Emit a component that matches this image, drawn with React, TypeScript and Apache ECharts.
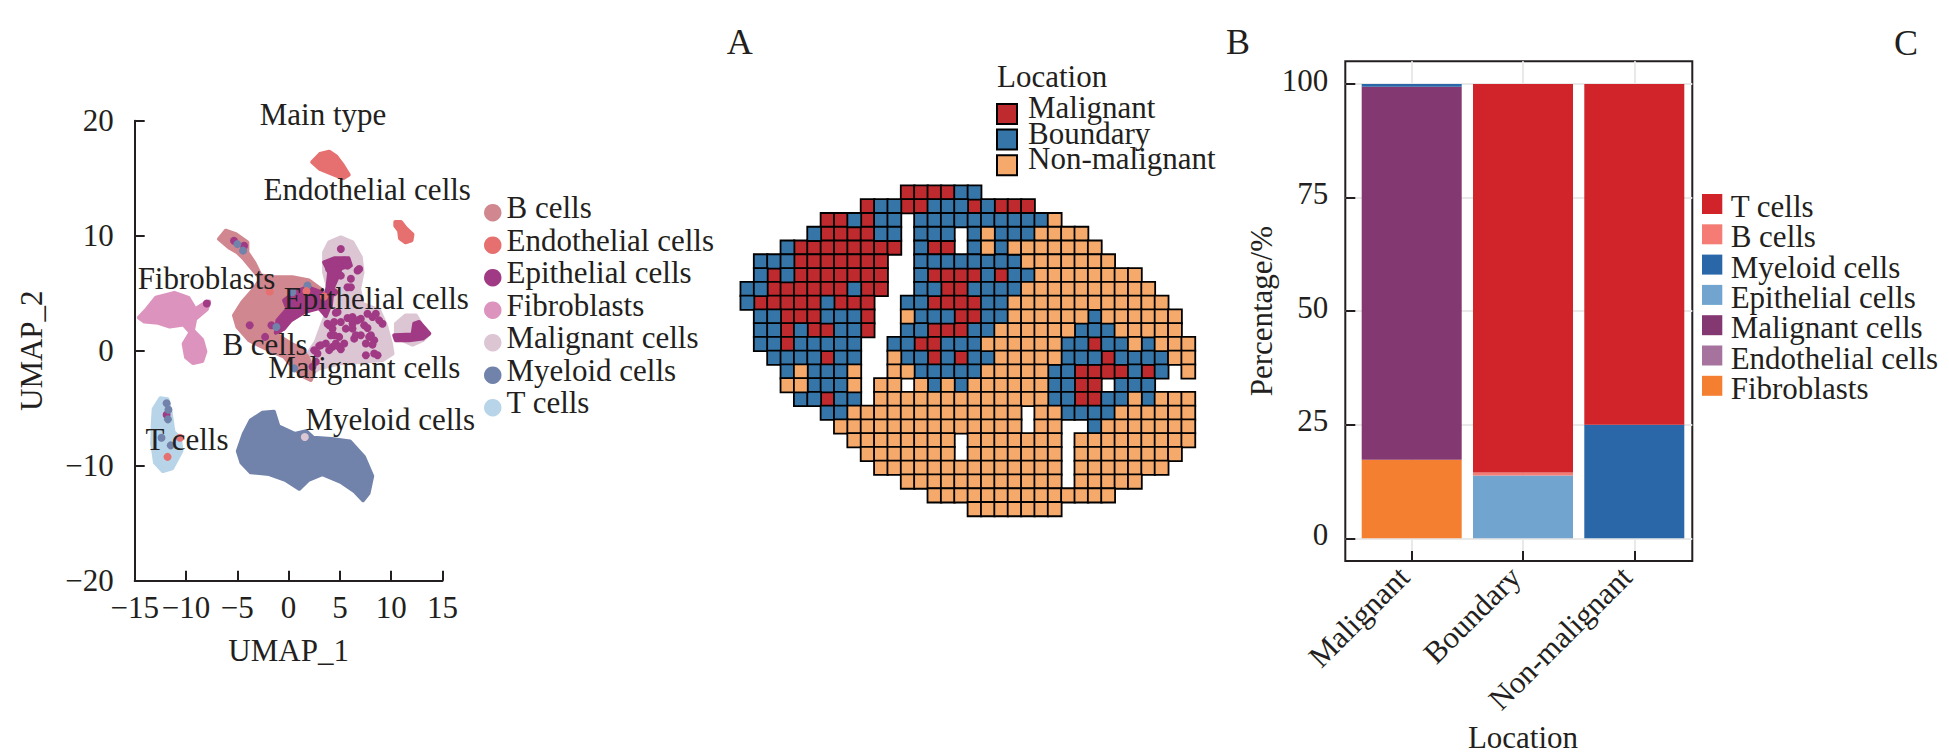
import React, { useEffect, useRef } from "react";
import * as echarts from "echarts";

const FONT = "Liberation Serif";
const INK = "#231f20";

// ---------- UMAP panel ----------
const bCellParts = [[[-6.78,9.71],[-6.13,10.43],[-5.15,10.14],[-4.02,9.42],[-4.02,8.55],[-3.37,7.69],[-2.72,6.53],[-1.41,6.39],[0.37,6.39],[2.0,6.1],[3.3,5.24],[3.63,4.37],[2.98,3.79],[1.51,3.36],[0.21,2.64],[-0.6,1.92],[-1.09,1.34],[0.21,0.62],[1.19,0.19],[1.84,-0.53],[2.49,-1.83],[2.16,-2.55],[1.51,-2.26],[0.54,-1.54],[-0.44,-0.53],[-2.23,0.19],[-3.85,0.91],[-4.99,2.06],[-5.32,3.07],[-4.5,4.23],[-3.37,5.38],[-2.72,6.25],[-3.53,7.11],[-4.34,7.98],[-4.99,8.55],[-5.8,8.98]]];
const endothelialParts = [
  [[2.3,16.4],[3.06,17.1],[3.96,17.3],[4.64,16.9],[5.3,16.1],[5.86,15.3],[5.3,15.0],[4.19,15.4],[3.06,15.8]],
  [[10.4,11.2],[10.95,11.2],[11.4,10.67],[12.07,10.1],[11.98,9.6],[11.4,9.43],[10.86,9.77],[10.77,10.43],[10.4,10.87]],
];
const epithelialParts = [
  [[0.62,5.09],[1.84,5.52],[3.14,5.09],[4.11,4.08],[3.63,3.02],[2.98,3.71],[1.51,3.36],[0.21,2.64],[-0.44,1.92],[-1.25,1.57],[-1.09,2.64],[-0.11,3.65],[-0.44,4.37]],
  [[3.46,7.69],[4.44,8.03],[5.84,8.03],[6.07,7.4],[5.09,7.17],[4.77,6.39],[4.28,5.38],[4.11,3.79],[3.46,4.08],[3.79,5.52],[3.95,6.82]],
  [[10.29,1.34],[12.08,1.4],[12.24,2.35],[12.73,2.5],[13.71,1.49],[13.06,1.05],[11.76,0.91],[10.46,0.91]],
];
const fibroblastParts = [[[-14.59,2.87],[-13.83,3.6],[-12.93,4.6],[-11.13,5.03],[-9.77,4.6],[-9.1,3.6],[-8.2,4.1],[-7.75,4.27],[-7.97,3.6],[-9.1,2.77],[-9.32,1.77],[-8.42,0.93],[-8.11,-0.07],[-8.42,-0.9],[-9.32,-1.07],[-10,-0.57],[-10.23,0.6],[-9.55,1.6],[-10.23,2.27],[-11.58,2.1],[-12.7,2.43],[-14.05,2.53]]];
const malignantParts = [
  [[3.46,8.55],[3.95,9.42],[5.09,9.85],[6.23,9.42],[7.04,8.12],[7.2,6.82],[6.88,5.38],[7.2,4.08],[8.83,3.51],[9.48,2.21],[9.97,0.62],[10.13,-0.24],[9.15,-0.82],[7.2,-0.96],[4.93,-1.11],[2.98,-1.54],[2.0,-2.12],[1.19,-1.54],[1.68,-0.53],[2.65,0.77],[3.3,2.35],[3.79,3.51],[3.95,5.1],[3.46,6.82]],
  [[10.46,2.35],[11.43,3.07],[12.41,3.07],[13.06,2.06],[13.71,1.49],[13.06,0.91],[12.08,0.53],[11.11,0.91],[10.46,1.34]],
];
const myeloidParts = [[[-4.95,-8.73],[-4.37,-7.23],[-3.69,-6.07],[-2.57,-5.4],[-1.44,-5.3],[-0.99,-6.57],[0.59,-7.23],[1.71,-7],[2.39,-7.57],[4.19,-7.67],[5.99,-7.9],[7.34,-9.23],[8.15,-10.9],[7.79,-12.4],[7.25,-13],[6.44,-12.23],[5.09,-11.4],[3.29,-10.73],[1.94,-11.23],[1.04,-12],[-0.32,-11.23],[-1.89,-10.73],[-3.69,-10.57],[-4.59,-9.73]]];
const tCellParts = [[[-13.15,-5.07],[-12.48,-4.13],[-11.8,-4.23],[-11.49,-5.4],[-11.22,-7.07],[-10.59,-7.57],[-10.45,-8.73],[-11.35,-10.23],[-12.25,-10.47],[-13.02,-9.73],[-13.29,-8.07],[-13.24,-6.4]]];

const epithelialDots = [[5.09,8.84],[6.72,6.97],[6.07,5.52],[4.6,3.3],[6.23,2.93],[7.04,2.78],[7.69,3.22],[8.5,3.22],[9.15,2.35],[7.69,1.98],[5.58,1.92],[6.23,1.92],[3.95,2.21],[4.11,1.34],[4.93,1.2],[5.42,0.62],[4.28,0.33],[5.09,0.13],[2.98,0.42],[2.49,0.04],[3.63,0.62],[6.39,1.05],[7.85,1.2],[8.34,0.91],[8.18,0.53],[7.53,-0.39],[8.34,-0.24],[2.65,-0.96],[2.33,-1.4],[7.04,1.34],[5.74,2.84],[4.93,7.69],[-3.79,2.21],[-1.67,2.21],[-2.29,1.2],[-5.32,9.56],[-4.34,9.13],[-11.89,-5.57],[-7.97,4.1],[4.44,7.69],[5.42,7.83],[3.95,7.11],[5.74,7.4],[5.09,6.53],[6.07,6.25],[4.44,5.09],[5.74,5.52],[6.88,7.11],[4.28,1.92],[4.77,3.36],[6.07,2.78],[6.72,2.64],[7.37,2.21],[8.18,2.93],[8.83,2.64],[4.44,1.34],[4.6,0.62],[6.55,1.34],[8.02,1.34],[7.53,0.62],[8.67,-0.39],[3.14,0.48],[2.81,-0.24],[3.95,0.05],[4.93,0.33],[6.23,2.35],[5.09,2.5],[4.44,2.5],[3.79,2.35]];
const myeloidDots = [[-4.99,9.27],[-4.44,8.7],[-1.19,2.06],[1.84,5.67],[0.37,5.09],[0.54,-1.54],[-11.89,-4.57],[-11.71,-5.13],[-11.76,-5.97],[-12.39,-7.57],[-11.49,-8.23]];
const endothelialDots = [[-1.84,5.15],[1.74,5.18],[3.46,4.72],[-11.8,-9.23],[-10.59,-7.57]];
const malignantDots = [[1.58,-7.5]];

const umapTypes = ["B cells","Endothelial cells","Epithelial cells","Fibroblasts","Malignant cells","Myeloid cells","T cells"];
const umapColors = ["#D1878F","#E5706F","#A03A85","#DC93BE","#DCC6D4","#7183AA","#B8D4E8"];
const umapParts = [bCellParts,endothelialParts,epithelialParts,fibroblastParts,malignantParts,myeloidParts,tCellParts];
const drawOrder = [4,0,3,5,6,1,2];

const umapLabelNames = ["Endothelial cells","Fibroblasts","Epithelial cells","B cells","Malignant cells","Myeloid cells","T cells"];
const umapLabelSpots = [[7.66,14.05],[-8,6.25],[8.55,4.5],[-2.3,0.55],[7.37,-1.45],[9.9,-6.0],[-9.9,-7.75]];

// ---------- spatial panel ----------
const locationNames = ["Malignant","Boundary","Non-malignant"];
const locationColors = ["#BF2A2E","#3575A8","#F5A96B"];
const locationCodes = ["M","B","N"];
const spotRows = [
  "............MMMMBB................",
  ".........MBBMMBBBMBMMM............",
  "......MMBMBB.BBBBBBBBBBN..........",
  ".....BMMMMBB.BBB.BNBBBNNNN........",
  "...BMMMMMMMM.BMM.BNBNNNNNNN.......",
  ".BBBMMMMMMM..BBBBBBBBNNNNNNN......",
  ".BMBMMMMMMM..BMMMMBMBBNNNNNNNN....",
  "BBMMMMMMBMM..BBMMBBBBNNNNNNNNNN...",
  "BMMMMMBMMM..BBMMMMBBNNNNNNNNNNNN..",
  ".BBMMMBBBM..NBBBMMBBNNNNNNBNNNNNN.",
  ".BBMBMMBBM..BBMMMBBNNNNNNBBBNNNNN.",
  ".BBMBBBBB..BBMMBBBNNNNNNBBMBBNBNNN",
  "..BBBBMBB..NBBMBMBBNNNNNBBBMBBBBNN",
  "...BNBBBN..NNBBBBBNNNNNBBMMMMBMB.N",
  "...NNBBBN.NN.NBNBNNNNNNBBMM.BBB...",
  "....BBMBB.NNNNNNNNNNNNNBBMMBBNBNNN",
  "......BBNNNNNNNNNNNNN.NNBBBBNNNNNN",
  ".......NNNNNNNNNNNNNN.NN..BNNNNNNN",
  "........NNNNNNNN.NNNNNNN.NNNNNNNNN",
  ".........NNNNNNN.NNNNNNN.NNNNNNNN.",
  "..........NNNNNNNNNNNNNN.NNNNNNN..",
  "............NNNNNNNNNNNN.NNNNN....",
  "..............NNNNNNNNNNNNNN......",
  ".................NNNNNNN..........",
];

// ---------- stacked bar panel ----------
const barCategories = ["Malignant","Boundary","Non-malignant"];
const tCellShare = [0,85.5,75];
const bCellShare = [0,0.7,0];
const myeloidShare = [0.6,0,25];
const epithelialShare = [0,13.8,0];
const malignantShare = [82.1,0,0];
const endothelialShare = [0,0,0];
const fibroblastShare = [17.3,0,0];
const barNames = ["T cells","B cells","Myeloid cells","Epithelial cells","Malignant cells","Endothelial cells","Fibroblasts"];
const barColors = ["#D0232A","#F47C74","#2A67A8","#71A5CF","#843872","#A6739F","#F57F30"];
const barValues = [tCellShare,bCellShare,myeloidShare,epithelialShare,malignantShare,endothelialShare,fibroblastShare];
const percentTicks = [0,25,50,75,100];
const percentGrid = [0,12.5,25,37.5,50,62.5,75,87.5,100];
const barCentres = [0,1,2];

function buildOption() {
  const minus = (v: number) => String(v).replace("-", "\u2212");
  const text = { fontFamily: FONT, fontSize: 31, color: INK };
  const line = { onZero: false, lineStyle: { color: INK, width: 2 } };
  const tick = { lineStyle: { color: INK, width: 2 } };
  const richName = (name: string) => `{a|${name}}`;
  const series: any[] = [];
  const visualMap: any[] = [];

  drawOrder.forEach((t) => {
    const parts = umapParts[t];
    const color = umapColors[t];
    const data: number[][] = [];
    const first: number[] = [];
    parts.forEach((p, i) => {
      first.push(data.length);
      p.forEach((v) => data.push([v[0], v[1], i]));
    });
    series.push({
      type: "custom",
      name: umapTypes[t],
      xAxisIndex: 0,
      yAxisIndex: 0,
      silent: true,
      itemStyle: { color },
      encode: { x: 0, y: 1 },
      data,
      renderItem: (params: any, api: any) => {
        const part = api.value(2);
        if (params.dataIndex !== first[part]) return null;
        return {
          type: "polygon",
          shape: { points: parts[part].map((v) => api.coord(v)) },
          style: { fill: color, stroke: color, lineWidth: 4, lineJoin: "round" },
        };
      },
    });
  });

  const dots: [string, number[][], number][] = [
    ["Epithelial cells", epithelialDots, 2],
    ["Myeloid cells", myeloidDots, 5],
    ["Endothelial cells", endothelialDots, 1],
    ["Malignant cells", malignantDots, 4],
  ];
  dots.forEach(([name, data, c]) => {
    series.push({
      type: "scatter",
      name,
      xAxisIndex: 0,
      yAxisIndex: 0,
      symbolSize: 8,
      silent: true,
      itemStyle: { color: umapColors[c], opacity: 1 },
      data,
    });
  });

  series.push({
    type: "scatter",
    name: "UMAP labels",
    xAxisIndex: 0,
    yAxisIndex: 0,
    symbolSize: 1,
    silent: true,
    z: 5,
    itemStyle: { color: "transparent", opacity: 1 },
    label: { show: true, position: "inside", formatter: "{b}", opacity: 1, ...text },
    data: umapLabelNames.map((name, i) => ({ name, value: umapLabelSpots[i] })),
  });

  locationNames.forEach((name, k) => {
    const data: number[][] = [];
    spotRows.forEach((row, r) => {
      row.split("").forEach((ch, c) => {
        if (ch === locationCodes[k]) data.push([c, r, 1]);
      });
    });
    visualMap.push({
      type: "continuous",
      show: false,
      seriesIndex: series.length,
      min: 0,
      max: 1,
      inRange: { color: [locationColors[k], locationColors[k]] },
    });
    series.push({
      type: "heatmap",
      name,
      xAxisIndex: 1,
      yAxisIndex: 1,
      silent: true,
      itemStyle: { color: locationColors[k], borderColor: "#000", borderWidth: 1.8 },
      emphasis: { disabled: true },
      data,
    });
  });

  [6, 5, 4, 3, 2, 1, 0].forEach((i) => {
    series.push({
      type: "bar",
      name: barNames[i],
      xAxisIndex: 3,
      yAxisIndex: 3,
      stack: "share",
      barWidth: 100,
      silent: true,
      itemStyle: { color: barColors[i] },
      data: barValues[i],
    });
  });

  const noBounds = { outerBoundsMode: "none" };
  return {
    animation: false,
    backgroundColor: "#fff",
    textStyle: { fontFamily: FONT },
    visualMap,
    grid: [
      { ...noBounds, left: 134.7, top: 120.7, width: 307.8, height: 460 },
      { ...noBounds, left: 740.7, top: 185.7, width: 454.3, height: 330.3 },
      { ...noBounds, left: 1345.3, top: 61.3, width: 347, height: 499.7, show: true, borderColor: INK, borderWidth: 2 },
      { ...noBounds, left: 1356.05, top: 61.3, width: 333.9, height: 499.7 },
    ],
    xAxis: [
      {
        gridIndex: 0, type: "value", min: -15, max: 15, interval: 5,
        name: "UMAP_1", nameLocation: "middle", nameGap: 54, nameTextStyle: text,
        axisLine: { show: true, ...line },
        axisTick: { show: true, inside: true, length: 10, ...tick },
        axisLabel: { ...text, margin: 11, formatter: minus, hideOverlap: false, showMinLabel: true, showMaxLabel: true },
        splitLine: { show: false },
      },
      { gridIndex: 1, type: "category", show: false, data: spotRows[0].split("").map((_, i) => String(i)) },
      {
        gridIndex: 2, type: "value", min: -0.6, max: 2.52, position: "bottom",
        axisLine: { show: false }, axisLabel: { show: false },
        axisTick: { show: false, customValues: barCentres },
        splitLine: { show: true, customValues: barCentres, lineStyle: { color: "#e9e9e9", width: 2 } },
      },
      {
        gridIndex: 3, type: "category", data: barCategories,
        name: "Location", nameLocation: "middle", nameGap: 161, nameTextStyle: text,
        axisLine: { show: false, onZero: false },
        axisTick: { show: true, inside: true, alignWithLabel: true, length: 10, ...tick },
        axisLabel: { ...text, rotate: 45, margin: 3, interval: 0, padding: [0, 11, 0, 0] },
      },
    ],
    yAxis: [
      {
        gridIndex: 0, type: "value", min: -20, max: 20, interval: 10,
        name: "UMAP_2", nameLocation: "middle", nameGap: 88, nameTextStyle: text,
        axisLine: { show: true, ...line },
        axisTick: { show: true, inside: true, length: 10, ...tick },
        axisLabel: { ...text, margin: 21, formatter: minus },
        splitLine: { show: false },
      },
      { gridIndex: 1, type: "category", show: false, inverse: true, data: spotRows.map((_, i) => String(i)) },
      {
        gridIndex: 2, type: "value", min: -5, max: 105,
        name: "Percentage/%", nameLocation: "middle", nameGap: 68, nameTextStyle: text,
        axisLine: { show: false, onZero: false },
        axisTick: { show: true, inside: true, length: 10, customValues: percentTicks, ...tick },
        axisLabel: {
          ...text, margin: 17, customValues: percentTicks, padding: [0, 0, 8, 0],
          formatter: (v: number) => `{a|${v}}`, rich: { a: { ...text } },
        },
        splitLine: { show: true, customValues: percentGrid, lineStyle: { color: "#e9e9e9", width: 2 } },
      },
      { gridIndex: 3, type: "value", show: false, min: -5, max: 105, splitLine: { show: false } },
    ],
    legend: [
      {
        left: 484, top: 192.2, padding: 0, orient: "vertical", icon: "circle",
        itemWidth: 17.5, itemHeight: 17.5, itemGap: 1.5, selectedMode: false, formatter: richName,
        textStyle: { ...text, padding: [0, 0, 10, 0], rich: { a: { ...text } } },
        data: umapTypes.map((name, i) => ({ name, itemStyle: { color: umapColors[i] } })),
      },
      {
        left: 996, top: 92, padding: 0, orient: "vertical", icon: "rect",
        itemWidth: 20, itemHeight: 20, itemGap: -7.4, selectedMode: false, formatter: richName,
        textStyle: { ...text, padding: [0, 0, 13, 6], rich: { a: { ...text } } },
        data: locationNames.map((name, i) => ({
          name,
          itemStyle: { color: locationColors[i], borderColor: "#000", borderWidth: 2 },
        })),
      },
      {
        left: 1702, top: 191, padding: 0, orient: "vertical", icon: "rect",
        itemWidth: 20.3, itemHeight: 20, itemGap: -0.7, selectedMode: false, formatter: richName,
        textStyle: { ...text, padding: [5, 0, 0, 3.4], rich: { a: { ...text } } },
        data: barNames.map((name, i) => ({ name, itemStyle: { color: barColors[i] } })),
      },
    ],
    graphic: [
      ["A", 739.7, 42, 36, "center"],
      ["B", 1238, 42, 36, "center"],
      ["C", 1906, 43, 36, "center"],
      ["Main type", 323, 114, 31, "center"],
      ["Location", 997, 76, 31, "left"],
    ].map(([t, x, y, size, align]) => ({
      type: "text",
      x,
      y,
      silent: true,
      style: {
        text: t,
        fontFamily: FONT,
        fontSize: size,
        fill: INK,
        textAlign: align,
        textVerticalAlign: "middle",
      },
    })),
    series,
  };
}

export default function App() {
  const ref = useRef<HTMLDivElement>(null);
  useEffect(() => {
    document.body.style.margin = "0";
    const chart = echarts.init(ref.current!, null, { renderer: "svg" });
    chart.setOption(buildOption() as any);
    return () => chart.dispose();
  }, []);
  return <div ref={ref} style={{ position: "absolute", left: 0, top: 0, width: 1949, height: 756 }} />;
}
